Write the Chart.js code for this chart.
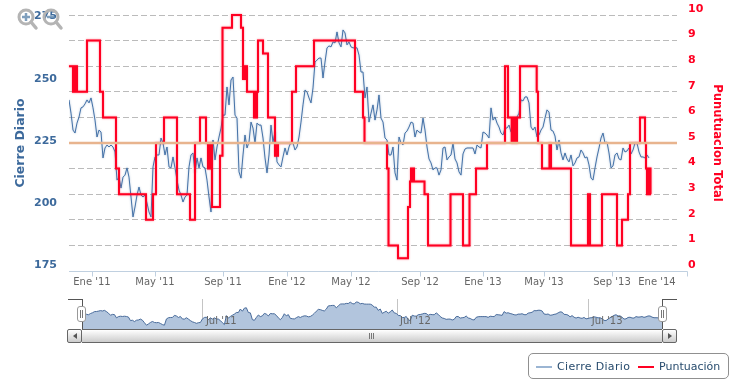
<!DOCTYPE html>
<html>
<head>
<meta charset="utf-8">
<script src="https://cdn.jsdelivr.net/npm/chart.js@4/dist/chart.umd.js"></script>
<style>
    html, body { margin: 0; padding: 0; background: #fff; }
    #wrap { position: relative; width: 736px; height: 386px; overflow: hidden; font-family: "DejaVu Sans", sans-serif; }
    canvas { position: absolute; left: 0; }
    #main { top: 0; }
    #nav { top: 295px; }
    .abs { position: absolute; box-sizing: border-box; }
    .handle { top: 306px; width: 9px; height: 16px; background: #fff; border: 1px solid #999; border-radius: 3px; }
    .handle i { position: absolute; top: 3px; width: 1px; height: 8px; background: #777; }
    .edge { background: #555; }
    #bar { left: 82px; top: 329px; width: 580px; height: 14px; background: linear-gradient(#fff, #ccc); border-top: 1px solid #666; border-bottom: 1px solid #666; }
    .btn { top: 329px; width: 15px; height: 14px; background: linear-gradient(#fff, #ccc); border: 1px solid #666; border-radius: 2px; }
    .btn b { position: absolute; top: 3px; left: 5px; width: 0; height: 0; border-top: 3px solid transparent; border-bottom: 3px solid transparent; }
    #grip { left: 369px; top: 333px; width: 6px; height: 6px; background: repeating-linear-gradient(90deg, #777 0 1px, transparent 1px 2px); }
    #legend { left: 528px; top: 353px; width: 201px; height: 26px; background: #fff; border: 1px solid #909090; border-radius: 5px; color: #274b6d; font-size: 11px; line-height: 26px; white-space: nowrap; }
    #legend span, #legend u { position: absolute; text-decoration: none; }
    #legend u { top: 12px; width: 16px; height: 2px; }
    #zoomIcons { position: absolute; left: 0; top: 0; }
</style>
</head>
<body>
<div id="wrap">
    <canvas id="main" width="736" height="295"></canvas>
    <canvas id="nav" width="736" height="48"></canvas>

    <div class="abs edge" style="left:68px;top:299px;width:15px;height:1px"></div>
    <div class="abs edge" style="left:82px;top:299px;width:1px;height:30px"></div>
    <div class="abs edge" style="left:662px;top:299px;width:15px;height:1px"></div>
    <div class="abs edge" style="left:662px;top:299px;width:1px;height:30px"></div>

    <div id="bar" class="abs"></div>
    <div id="grip" class="abs"></div>
    <div class="abs btn" style="left:67px"><b style="border-right:4px solid #555"></b></div>
    <div class="abs btn" style="left:662px"><b style="border-left:4px solid #555"></b></div>
    <div class="abs handle" style="left:77px"><i style="left:2px"></i><i style="left:4px"></i></div>
    <div class="abs handle" style="left:658px"><i style="left:2px"></i><i style="left:4px"></i></div>

    <div id="legend" class="abs">
        <u style="left:7px;background:#9bb5d3"></u><span style="left:28px;letter-spacing:0.33px">Cierre Diario</span>
        <u style="left:109px;background:#ff0022"></u><span style="left:130px">Puntuación</span>
    </div>

    <svg id="zoomIcons" width="70" height="35">
        <g fill="none" stroke="#b4b4b4">
            <circle cx="26" cy="17" r="7" stroke-width="3"></circle>
            <line x1="31" y1="22" x2="36" y2="28" stroke-width="3.5" stroke-linecap="round"></line>
            <circle cx="51" cy="17" r="7" stroke-width="3"></circle>
            <line x1="56" y1="22" x2="61" y2="28" stroke-width="3.5" stroke-linecap="round"></line>
        </g>
        <g stroke="#5f87ad" stroke-width="2.5" opacity="0.8">
            <line x1="22" y1="17" x2="30" y2="17"></line>
            <line x1="26" y1="13" x2="26" y2="21"></line>
            <line x1="47" y1="17" x2="55" y2="17"></line>
        </g>
    </svg>
</div>

<script>
    // daily close, one reading every 2.5 sessions or so
    const closeValues = [
        242.3,237.0,230.2,229.0,233.0,235.4,239.1,239.5,240.7,242.3,241.1,243.1,239.1,234.2,227.4,230.2,229.4,219.0,223.0,224.2,
        223.4,224.2,223.4,221.4,210.1,211.3,206.9,211.3,212.1,215.0,211.3,203.3,195.3,199.3,204.1,207.3,204.1,203.3,204.1,200.9,
        197.3,195.3,215.4,219.4,220.2,220.2,227.0,225.0,220.2,223.4,215.4,215.0,219.4,215.0,210.1,206.1,204.1,201.3,203.3,204.1,
        215.4,220.2,221.0,213.0,219.0,215.0,219.0,215.4,215.0,210.1,203.3,197.3,226.2,218.2,223.4,227.4,
        231.0,236.2,236.2,247.5,240.3,250.3,251.5,236.2,235.0,213.4,210.9,220.2,228.2,223.0,225.4,233.4,231.0,225.0,233.0,232.2,
        232.2,227.0,219.0,213.0,220.2,232.2,225.4,229.4,217.4,216.2,215.4,219.4,223.0,220.2,223.4,225.4,225.0,222.2,223.4,227.4,
        233.4,240.3,246.3,245.5,243.1,241.1,247.1,257.5,258.3,259.1,259.1,251.1,257.5,263.2,264.0,263.6,265.6,265.2,269.6,265.2,
        263.6,270.4,269.2,264.4,265.6,263.6,263.2,263.2,263.2,260.3,253.5,253.5,243.1,247.5,233.4,
        237.0,240.3,234.2,238.3,244.3,235.0,233.4,227.0,226.2,220.2,220.2,223.4,213.0,210.1,227.4,225.0,224.2,229.0,229.8,231.4,
        233.4,233.0,227.4,230.2,229.4,229.0,235.0,230.2,223.4,218.6,217.0,214.2,215.0,215.0,212.1,214.2,223.0,223.4,218.2,219.4,
        220.2,225.0,218.6,217.0,213.4,212.1,220.6,222.6,223.0,223.0,223.0,223.0,220.6,224.2,223.4,223.0,229.4,229.0,228.2,227.0,
        239.1,234.2,235.4,233.0,231.4,229.0,228.2,231.0,231.0,232.2,229.4,229.0,
        234.2,235.4,237.0,242.3,241.9,243.5,243.5,241.1,231.4,230.2,231.4,227.4,228.2,230.2,231.4,235.0,238.3,237.4,230.2,229.8,
        227.8,222.2,226.2,221.0,218.2,221.0,218.6,217.4,220.2,215.8,217.0,219.0,219.4,222.2,221.0,219.0,219.4,216.2,210.9,210.1,
        215.0,219.4,223.0,227.0,229.0,225.0,225.4,221.0,215.0,215.8,220.2,221.0,218.6,218.2,223.0,221.4,221.8,223.0,220.6,222.2,
        225.0,225.0,221.4,219.4,219.4,219.0,220.2,219.0
    ];

    // score changes: where it changes (same index as closeValues) and the new score
    const scoreAt = [
        0,2,2.5,3,3.5,4,9,15.5,17,23.5,25,38.5,42,43.5,47.5,54,60.5,63,65.5,68.5,69.5,70,70.5,71,71.5,75.5,76.75,81.5,86,
        87,87.5,88,88.5,89,92.5,93,93.5,94,94.5,97,99.5,103,103.5,104,104.5,111.5,113.5,122.5,143,147,147.75,159,159.75,
        164.5,169.5,170.5,171,171.5,172,172.5,177.75,179.5,190.75,197,200.25,203.5,209,218,219.5,221.35,222,222.5,223,223.5,
        224,225.5,233.85,234.5,236.5,240.25,241,251,259.5,260.5,266.5,274,276.5,279.5,280.5,285.5,288,288.5,289,289.5,290,290.5,290.75
    ];
    const scoreValues = [
        8,7,8,7,8,7,9,7,6,4,3,2,3,5,6,3,2,5,6,5,4,5,4,5,2.5,4.5,9.5,10,9.5,
        7.5,8,7.5,8,7,6,7,6,7,9,8.5,6,4.5,5,4.5,5,7,8,9,7,6,5,4,1,
        0.5,2.5,3.5,4,3.5,4,3.5,3,1,3,1,3,4,5,8,6,5,6,5,6,5,
        6,8,7,5,4,5,4,1,3,1,3,1,2,3,5,6,5,4,3,4,3,4,3
    ];

    const refPrice = 225;
    const priceTicks = [175, 200, 225, 250, 275];
    const scoreTicks = [0, 1, 2, 3, 4, 5, 6, 7, 8, 9, 10];

    const monthLabels = ["Ene '11", "May '11", "Sep '11", "Ene '12", "May '12", "Sep '12", "Ene '13", "May '13", "Sep '13", "Ene '14"];
    const monthLabelAt = [11.5, 43, 77, 109, 141, 175.5, 207, 237.5, 271.5, 294];
    const monthMarkAt = [11.5, 43, 77, 109, 141, 175.5, 207, 237.5, 271.5, 309];

    const navLabels = ["Jul '11", "Jul '12", "Jul '13"];
    const navAt = [60.25, 157.4, 253.4];

    // highcharts-style soft halo round a line
    const glowPlugin = {
        id: 'glow',
        beforeDatasetDraw(chart, args) {
            const ds = chart.data.datasets[args.index];
            chart.ctx.save();
            if (ds.glow) {
                chart.ctx.shadowColor = ds.glow;
                chart.ctx.shadowBlur = 2;
            }
        },
        afterDatasetDraw(chart) {
            chart.ctx.restore();
        }
    };

    // the month axis runs past the plot area on the right
    const monthAxisPlugin = {
        id: 'monthAxis',
        afterDraw(chart) {
            const { ctx, chartArea, scales } = chart;
            const y = chartArea.bottom + 0.5;
            ctx.save();
            ctx.strokeStyle = '#c0d0e0';
            ctx.lineWidth = 1;
            ctx.beginPath();
            ctx.moveTo(chartArea.left, y);
            ctx.lineTo(scales.x.getPixelForValue(309) + 0.5, y);
            for (let at of monthMarkAt) {
                const x = Math.round(scales.x.getPixelForValue(at)) + 0.5;
                ctx.moveTo(x, y);
                ctx.lineTo(x, y + 5);
            }
            ctx.stroke();
            ctx.restore();
        }
    };

    const navLabelPlugin = {
        id: 'navLabels',
        afterDraw(chart) {
            const { ctx, scales } = chart;
            ctx.save();
            ctx.font = '10px "DejaVu Sans"';
            ctx.fillStyle = '#666';
            ctx.textBaseline = 'middle';
            for (let [index, label] of navLabels.entries()) {
                ctx.fillText(label, scales.x.getPixelForValue(navAt[index]) + 3, 26);
            }
            ctx.restore();
        }
    };

    const fitWidth = width => scale => {
        scale.width = width;
        scale.paddingTop = 0;
        scale.paddingBottom = 0;
    };

    const closePoints = closeValues.map((value, index) => ({ x: index, y: value }));
    const scorePoints = scoreAt.map((at, index) => ({ x: at, y: scoreValues[index] }));

    new Chart(document.getElementById('main').getContext('2d'), {
        type: 'line',
        plugins: [glowPlugin, monthAxisPlugin],
        data: {
            datasets: [
                {
                    label: 'Referencia',
                    data: [{ x: 0, y: refPrice }, { x: 304, y: refPrice }],
                    yAxisID: 'y',
                    borderColor: '#e8b48e',
                    borderWidth: 2.5,
                    pointRadius: 0
                },
                {
                    label: 'Puntuación',
                    data: scorePoints,
                    yAxisID: 'y1',
                    stepped: true,
                    borderColor: '#ff0022',
                    borderWidth: 2,
                    pointRadius: 0,
                    clip: false,
                    glow: 'rgba(255,0,34,0.55)'
                },
                {
                    label: 'Cierre Diario',
                    data: closePoints,
                    yAxisID: 'y',
                    borderColor: '#4572a7',
                    borderWidth: 1,
                    pointRadius: 0,
                    tension: 0,
                    glow: 'rgba(69,114,167,0.5)'
                }
            ]
        },
        options: {
            responsive: false,
            animation: false,
            layout: { padding: { top: 15 } },
            plugins: { legend: { display: false }, tooltip: { enabled: false } },
            scales: {
                x: {
                    type: 'linear',
                    min: 0,
                    max: 304,
                    afterFit: scale => {
                        scale.height = 24;
                        scale.paddingLeft = 0;
                        scale.paddingRight = 0;
                    },
                    afterBuildTicks: scale => { scale.ticks = monthLabelAt.map(at => ({ value: at })); },
                    border: { display: false },
                    grid: { display: false, drawTicks: false },
                    ticks: {
                        autoSkip: false,
                        maxRotation: 0,
                        padding: 5,
                        color: '#666',
                        font: { family: '"DejaVu Sans"', size: 10 },
                        callback: (value, index) => monthLabels[index]
                    }
                },
                y: {
                    position: 'left',
                    min: 173.6,
                    max: 276.4,
                    afterFit: fitWidth(69),
                    afterBuildTicks: scale => { scale.ticks = priceTicks.map(v => ({ value: v })); },
                    border: { display: false },
                    grid: { display: false, drawTicks: false },
                    title: {
                        display: true,
                        text: 'Cierre Diario',
                        color: '#3d6a9c',
                        font: { family: '"DejaVu Sans"', size: 12.5, weight: 'bold' },
                        padding: { top: 13, bottom: 0 }
                    },
                    ticks: {
                        padding: 12,
                        labelOffset: -2,
                        color: '#3d6a9c',
                        font: { family: '"DejaVu Sans"', size: 11, weight: 'bold' }
                    }
                },
                y1: {
                    position: 'right',
                    min: 0,
                    max: 10,
                    afterFit: fitWidth(59),
                    afterBuildTicks: scale => { scale.ticks = scoreTicks.map(v => ({ value: v })); },
                    border: { display: false, dash: [6, 3] },
                    grid: {
                        drawTicks: false,
                        color: ctx => ctx.tick.value === 0 ? 'transparent' : '#bbb'
                    },
                    title: {
                        display: true,
                        text: 'Punutuacion Total',
                        color: '#ff0022',
                        font: { family: '"DejaVu Sans"', size: 11.6, weight: 'bold' },
                        padding: { top: 12, bottom: 0 }
                    },
                    ticks: {
                        padding: 11,
                        labelOffset: -6,
                        color: '#ff0022',
                        font: { family: '"DejaVu Sans"', size: 11, weight: 'bold' }
                    }
                }
            }
        }
    });

    new Chart(document.getElementById('nav').getContext('2d'), {
        type: 'line',
        plugins: [navLabelPlugin],
        data: {
            datasets: [{
                data: closePoints,
                borderColor: '#4a6c9b',
                borderWidth: 1,
                backgroundColor: '#b2c5dd',
                fill: 'start',
                pointRadius: 0
            }]
        },
        options: {
            responsive: false,
            animation: false,
            layout: { padding: { left: 82.5, right: 74, top: 4, bottom: 14 } },
            plugins: { legend: { display: false }, tooltip: { enabled: false } },
            scales: {
                x: {
                    type: 'linear',
                    min: 0,
                    max: 290,
                    afterFit: scale => { scale.height = 0; },
                    afterBuildTicks: scale => { scale.ticks = navAt.map(at => ({ value: at })); },
                    border: { display: false },
                    grid: { color: '#c4c4c4', drawTicks: false },
                    ticks: { display: false }
                },
                y: {
                    display: false,
                    min: 183,
                    max: 279.8
                }
            }
        }
    });
</script>
</body>
</html>
